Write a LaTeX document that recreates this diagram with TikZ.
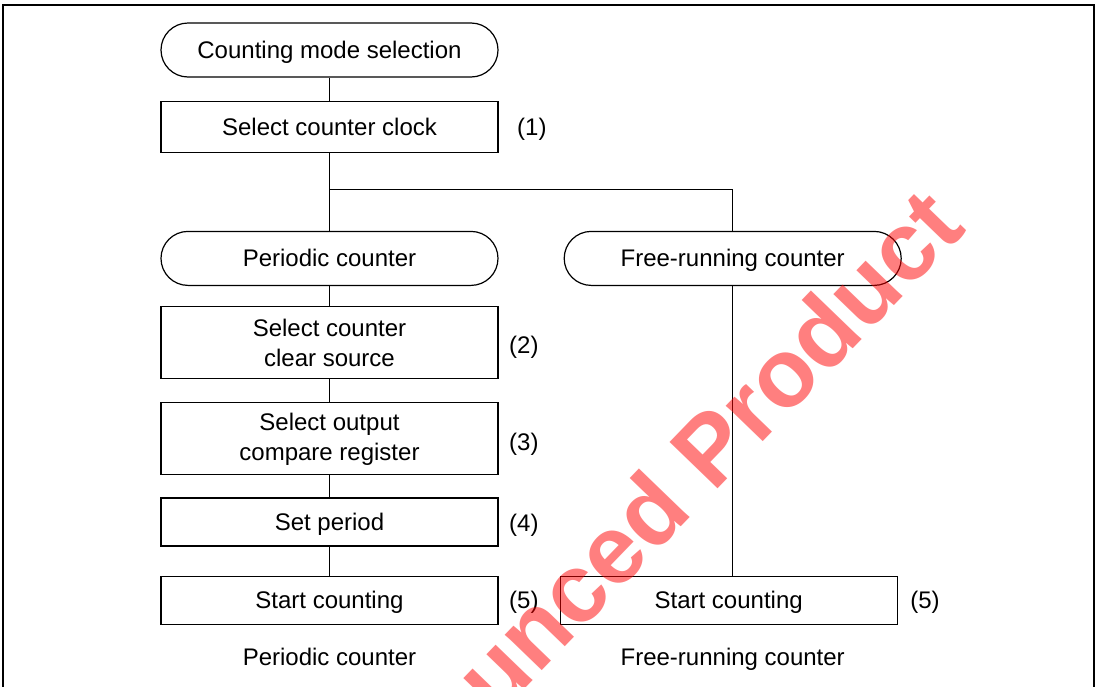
\documentclass[tikz,border=0pt]{standalone}
\usepackage{fontspec}
\setmainfont{Liberation Sans}
\usepackage{tikz}
\usetikzlibrary{positioning}

\begin{document}
\begin{tikzpicture}[
    font=\fontsize{12}{15}\selectfont,
    line width=0.6pt,
    block/.style={rectangle, draw, minimum width=168.5pt, minimum height=25.5pt,
    align=center, inner sep=0pt},
    oneline/.style={text height=9pt, text depth=0.5pt},
    terminal/.style={rectangle, draw, rounded corners=13.5pt, minimum width=168.5pt,
    minimum height=27pt, inner sep=0pt, oneline},
    num/.style={inner sep=0pt},
    caption/.style={inner sep=0pt, text height=9pt, text depth=2.5pt},
]

\useasboundingbox (0,0) rectangle (549pt,-343pt);
\draw[line width=1pt] (1.5pt,-350pt) |- (547pt,-2.5pt) -- (547pt,-350pt);

\node[terminal] (mode) at (164.75pt,-25pt) {Counting mode selection};
\node[block, oneline, below=11.5pt of mode] (clock) {Select counter clock};
\coordinate[below=18.5pt of clock] (split);
\node[terminal, below=39pt of clock] (periodic) {Periodic counter};
\node[terminal, right=32.5pt of periodic] (free) {Free-running counter};
\node[block, minimum height=36pt, below=10pt of periodic] (clear) {Select counter\\clear source};
\node[block, minimum height=36pt, below=11.5pt of clear] (compare) {Select output\\compare register};
\node[block, oneline, minimum height=24pt, below=11pt of compare] (period) {Set period};
\node[block, oneline, minimum height=24pt, below=14.5pt of period] (startp) {Start counting};
\node[block, oneline, minimum height=24pt, right=30.5pt of startp] (startf) {Start counting};

\node[num, right=9pt of clock, yshift=-1.25pt] (n1) {(1)};
\node[num, right=5pt of clear, yshift=-2.25pt] (n2) {(2)};
\node[num, right=5pt of compare, yshift=-2.5pt] (n3) {(3)};
\node[num, right=5pt of period, yshift=-1.5pt] (n4) {(4)};
\node[num, right=5pt of startp, yshift=-1pt] (n5p) {(5)};
\node[num, right=6pt of startf, yshift=-1pt] (n5f) {(5)};

\node[caption, below=10.8pt of startp] (capp) {Periodic counter};
\node[caption] (capf) at (capp -| free) {Free-running counter};

\draw (mode) -- (clock);
\draw (clock) -- (periodic);
\draw (split) -| (free);
\draw (periodic) -- (clear);
\draw (clear) -- (compare);
\draw (compare) -- (period);
\draw (period) -- (startp);
\draw (free) -- (free.south |- startf.north);

% watermark
\node[rotate=46, text=red, text opacity=0.5,
    font=\bfseries\fontsize{48.5}{50}\selectfont] (stamp) at (353.5pt,-225pt) {unced Product};

\end{tikzpicture}
\end{document}
